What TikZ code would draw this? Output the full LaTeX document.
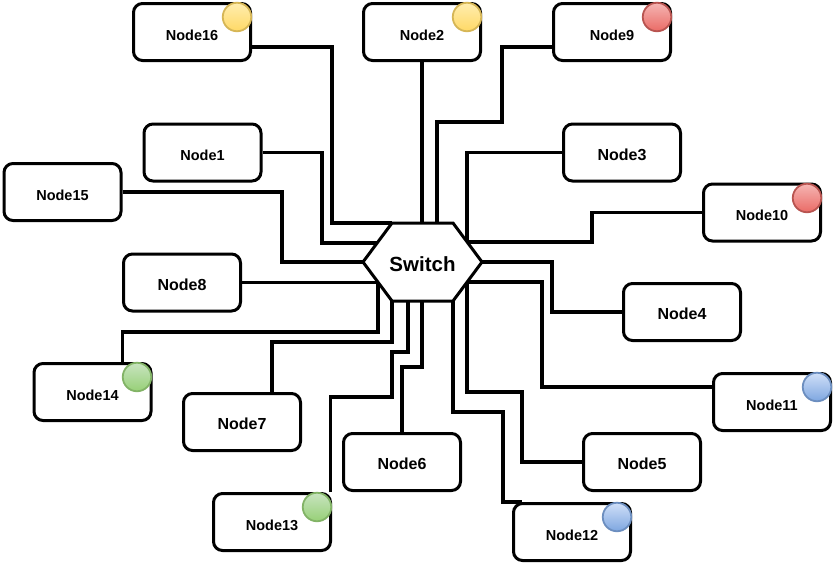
\documentclass[tikz,border=0pt]{standalone}
\usepackage{fontspec}
\setmainfont{Liberation Sans}
\usetikzlibrary{calc}
\definecolor{ylwT}{HTML}{FFEDAF}
\definecolor{ylwB}{HTML}{FFD966}
\definecolor{ylwS}{HTML}{D6B656}
\definecolor{redT}{HTML}{F5B5B3}
\definecolor{redB}{HTML}{EA6B66}
\definecolor{redS}{HTML}{B85450}
\definecolor{grnT}{HTML}{C8E4C0}
\definecolor{grnB}{HTML}{97D077}
\definecolor{grnS}{HTML}{82B366}
\definecolor{bluT}{HTML}{D0E0F8}
\definecolor{bluB}{HTML}{7EA6E0}
\definecolor{bluS}{HTML}{6C8EBF}
\begin{document}
\begin{tikzpicture}[x=1pt,y=-1pt,
  wire/.style={line width=3.2pt, line join=miter},
  box/.style={draw, fill=white, rounded corners=9pt, line width=3pt, minimum width=117pt, minimum height=57pt, inner sep=0pt, font=\bfseries\fontsize{14.5}{14.5}\selectfont, text height=16pt, text depth=0pt},
  bigbox/.style={box, font=\bfseries\fontsize{16}{16}\selectfont, text height=15.5pt},
  dot/.style={circle, line width=1.8pt, minimum size=28.5pt, inner sep=0pt},
  ylw/.style={dot, draw=ylwS, top color=ylwT, bottom color=ylwB},
  rd/.style={dot, draw=redS, top color=redT, bottom color=redB},
  grn/.style={dot, draw=grnS, top color=grnT, bottom color=grnB},
  blu/.style={dot, draw=bluS, top color=bluT, bottom color=bluB}]
\useasboundingbox (0,0) rectangle (835,565);
\fill[white] (0,0) rectangle (835,565);
% hexagon points
\coordinate (hL) at (363,262);
\coordinate (hTL) at (392,223);
\coordinate (hTR) at (453,223);
\coordinate (hR) at (482,262);
\coordinate (hBR) at (453,301);
\coordinate (hBL) at (392,301);
\coordinate (e1) at (377,243);
\coordinate (e8) at (378,282.5);
\coordinate (e3) at (467,242);
\coordinate (e5) at (467,282);
\coordinate (hT1) at (437,223);
\coordinate (hB1) at (408,301);
\coordinate (hB2) at (422,301);
% boxes
\node[box] (n16) at (192,32) {Node16};
\node[box] (n2) at (422,32) {Node2};
\node[box] (n9) at (612,32) {Node9};
\node[bigbox] (n3) at (622,152.5) {Node3};
\node[box] (n10) at (762,212.5) {Node10};
\node[box] (n1) at (202.5,152.5) {Node1};
\node[box] (n15) at (62.5,192) {Node15};
\node[bigbox] (n8) at (182,282.5) {Node8};
\node[box] (n14) at (92.5,392) {Node14};
\node[bigbox] (n7) at (242,422) {Node7};
\node[box] (n13) at (272,522) {Node13};
\node[bigbox] (n6) at (402,462) {Node6};
\node[bigbox] (n5) at (642,462) {Node5};
\node[box] (n12) at (572,532) {Node12};
\node[bigbox] (n4) at (682,312) {Node4};
\node[box] (n11) at (772,402) {Node11};
% wires
\draw[wire] ([yshift=-15pt]n16.east) -| (332,223) -- (hTL);
\draw[wire] (n2.south) -- (n2.south |- hTL);
\draw[wire] ([yshift=-15pt]n9.west) -| (502,122) -| (hT1);
\draw[wire] (n3.west) -| (e3);
\draw[wire] (n10.west) -| (592,242) -- (e3);
\draw[wire] (n1.east) -| (322,243) -- (e1);
\draw[wire] (n15.east) -| (282,262) -- (hL);
\draw[wire] (n8.east) -- (e8);
\draw[wire] ([xshift=30pt]n14.north) |- (378,332) -- (e8);
\draw[wire] ([xshift=30pt]n7.north) |- (392,342) -- (hBL);
\draw[wire] ([xshift=58.5pt]n13.north) |- (392,397) |- (408,352) -- (hB1);
\draw[wire] (n6.north) |- (422,367) -- (hB2);
\draw[wire] ([xshift=10pt]n12.north west) -| (503,412) -| (hBR);
\draw[wire] (n5.west) -| (522,392) -| (e5);
\draw[wire] ([yshift=15pt]n11.west) -| (542,282) -- (e5);
\draw[wire] (n4.west) -| (552,262) -- (hR);
% switch
\draw[line width=3pt, fill=white, line join=miter] (hL) -- (hTL) -- (hTR) -- (hR) -- (hBR) -- (hBL) -- cycle;
\node[font=\bfseries\fontsize{20.5}{20.5}\selectfont, text height=19.5pt, text depth=0pt, inner sep=0pt] (sw) at (422.5,262) {Switch};
% dots
\node[ylw] (c16) at (237,17) {};
\node[ylw] (c2) at (467,17) {};
\node[rd] (c9) at (657,17) {};
\node[rd] (c10) at (807,198) {};
\node[grn] (c14) at (137,377) {};
\node[grn] (c13) at (317,507) {};
\node[blu] (c12) at (617,517) {};
\node[blu] (c11) at (817,387) {};
\end{tikzpicture}
\end{document}
